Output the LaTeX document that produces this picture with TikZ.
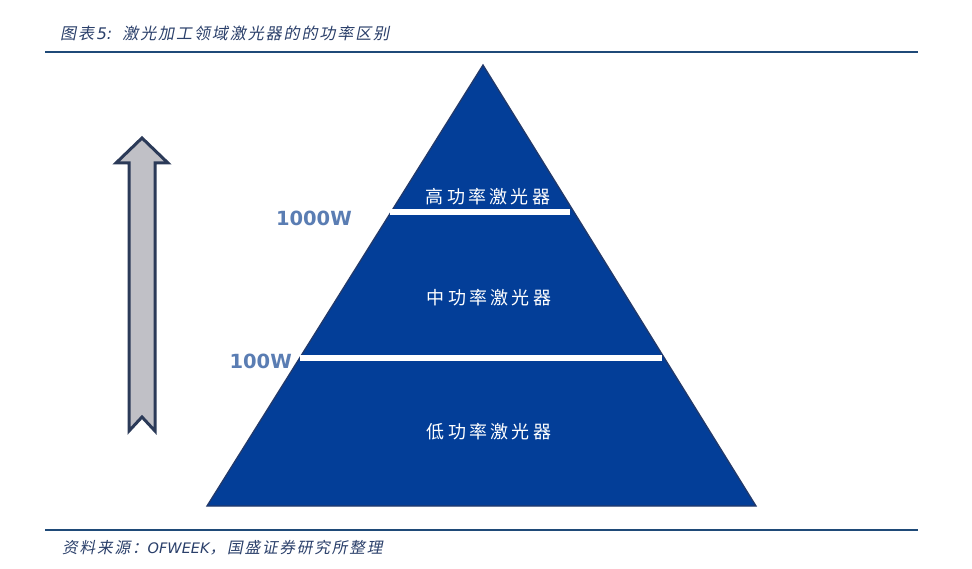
\documentclass[tikz,border=0pt]{standalone}
\usepackage{fontspec}
\newfontfamily\cjk{Noto Sans CJK SC}
\newfontfamily\cjkit[FakeSlant=0.2,LetterSpace=12]{Noto Sans CJK SC}
\newfontfamily\cjkwide[LetterSpace=18]{Noto Sans CJK SC}
\newfontfamily\latit{DejaVu Sans Oblique}
\newfontfamily\latbold{DejaVu Sans Bold}
\definecolor{rulecol}{HTML}{1F4A78}
\definecolor{titlecol}{HTML}{2A3F6A}
\definecolor{pyrfill}{HTML}{033E98}
\definecolor{pyredge}{HTML}{22396A}
\definecolor{arrfill}{HTML}{C0C0C6}
\definecolor{arredge}{HTML}{2B3A58}
\definecolor{wcol}{HTML}{5A7DB3}
\tikzset{
  rulestyle/.style={draw=rulecol,line width=2.6pt},
  layertext/.style={text=white,font=\cjkwide\fontsize{18}{21}\selectfont,inner sep=0pt},
  wlabel/.style={text=wcol,font=\latbold\fontsize{19.5}{22}\selectfont,inner sep=0pt},
  band/.style={draw=white,line width=6pt},
  captext/.style={text=titlecol,font=\cjkit\fontsize{16}{18}\selectfont,inner sep=0pt,anchor=west},
  srctext/.style={text=titlecol,font=\cjkit\fontsize{15.6}{18}\selectfont,inner sep=0pt,anchor=west}
}
\begin{document}
\begin{tikzpicture}[x=1pt,y=-1pt]
\fill[white] (0,0) rectangle (972,569);
\useasboundingbox (0,0) rectangle (972,569);
% rules
\coordinate (r1a) at (45,52); \coordinate (r1b) at (918,52);
\coordinate (r2a) at (45,530); \coordinate (r2b) at (918,530);
\draw[rulestyle] (r1a) -- (r1b);
\draw[rulestyle] (r2a) -- (r2b);
% title and source
\node[captext] (title) at (60,33) {图表\,{\latit\fontsize{16}{18}\selectfont 5:}\, 激光加工领域激光器的的功率区别};
\node[srctext] (source) at (62,548) {资料来源：{\latit\fontsize{14.5}{18}\selectfont OFWEEK}，国盛证券研究所整理};
% pyramid
\fill[pyrfill,draw=pyredge,line width=1.3pt,line join=miter] (483,65) -- (756,506) -- (207,506) -- cycle;
\coordinate (b1a) at (390,212); \coordinate (b1b) at (570,212);
\coordinate (b2a) at (300,358); \coordinate (b2b) at (662,358);
\draw[band] (b1a) -- (b1b);
\draw[band] (b2a) -- (b2b);
\node[layertext] (high) at (488,197) {高功率激光器};
\node[layertext] (mid) at (489,298) {中功率激光器};
\node[layertext] (low) at (489,432) {低功率激光器};
\node[wlabel,anchor=east] (w1000) at (352,218) {1000W};
\node[wlabel,anchor=east] (w100) at (292,361) {100W};
% arrow
\draw[fill=arrfill,draw=arredge,line width=3pt,line join=miter]
  (142,138) -- (168,163) -- (155,163) -- (155,431) -- (142,417) -- (129,431) -- (129,163) -- (116,163) -- cycle;
\end{tikzpicture}
\end{document}
